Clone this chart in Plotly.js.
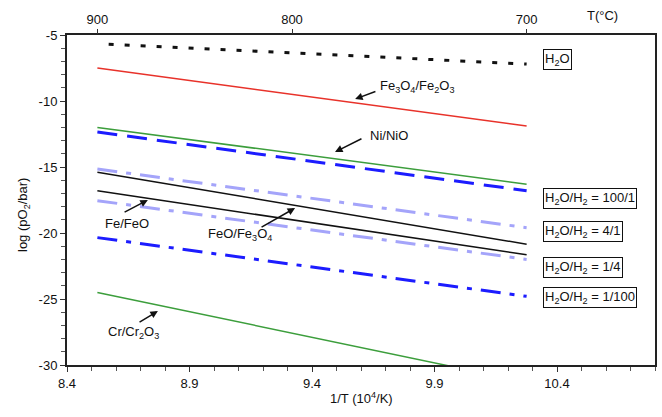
<!DOCTYPE html>
<html>
<head>
<meta charset="utf-8">
<script src="https://cdn.plot.ly/plotly-3.0.1.min.js"></script>
<style>html,body{margin:0;padding:0;background:#fff;}#chart{width:662px;height:417px;}</style>
</head>
<body>
<div id="chart"></div>
<script>
// 1/T values (10^4/K) at 900 °C and 700 °C
const invT = [8.524, 10.276];
const h2oInvT = [8.57, 10.276];
// log(pO2/bar) values at the ends of each line
const h2o = [-5.7, -7.2];
const fe3o4_fe2o3 = [-7.5, -11.9];
const ni_nio = [-12.0, -16.3];
const ratio_100_1 = [-12.35, -16.8];
const ratio_4_1 = [-15.15, -19.6];
const feo_fe3o4 = [-15.4, -20.85];
const fe_feo = [-16.8, -21.65];
const ratio_1_4 = [-17.55, -22.0];
const ratio_1_100 = [-20.35, -24.8];
const cr_cr2o3 = [-24.5, -31.3];
// tick labels
const topTicksC = [900, 800, 700];
const xTicks = [8.4, 8.9, 9.4, 9.9, 10.4];
const yTicks = [-30, -25, -20, -15, -10, -5];
const xRange = [8.4, 10.8];
const yRange = [-30, -5];

const FONT = 'Liberation Sans, Arial, sans-serif';
const FS = 13;
const BLUE = '#1c1cff';
const LBLUE = '#a4a4fa';

function tr(x, y, color, width, dash) {
  return {x: x, y: y, type: 'scatter', mode: 'lines', showlegend: false, hoverinfo: 'skip',
    line: {color: color, width: width, dash: dash || 'solid'}};
}

const data = [
  tr(h2oInvT, h2o, '#111', 3, '5px,11px'),
  tr(invT, fe3o4_fe2o3, '#e8322a', 1.5),
  tr(invT, ni_nio, '#3c9e3c', 1.5),
  tr(invT, ratio_100_1, BLUE, 3, '20px,10px'),
  tr(invT, ratio_4_1, LBLUE, 3, '20px,9px,5px,9px'),
  tr(invT, feo_fe3o4, '#111', 1.5),
  tr(invT, fe_feo, '#111', 1.5),
  tr(invT, ratio_1_4, LBLUE, 3, '20px,9px,5px,9px'),
  tr(invT, ratio_1_100, BLUE, 3, '20px,9px,5px,9px'),
  tr(invT, cr_cr2o3, '#3c9e3c', 1.5),
  {x: topTicksC.map(t => 1e4 / (t + 273.15)), y: [-5, -5, -5], xaxis: 'x2', type: 'scatter', mode: 'markers',
   marker: {opacity: 0}, showlegend: false, hoverinfo: 'skip'}
];

function arrow(x, y, ax, ay) {
  return {x: x, y: y, ax: ax, ay: ay, xref: 'x', yref: 'y', axref: 'x', ayref: 'y', text: '',
    showarrow: true, arrowhead: 2, arrowsize: 1, arrowwidth: 1.5, arrowcolor: '#111', standoff: 0};
}
function label(x, y, text) {
  return {x: x, y: y, xref: 'x', yref: 'y', text: text, showarrow: false, xanchor: 'center', yanchor: 'middle',
    font: {family: FONT, size: FS, color: '#111'}};
}
function box(y, text) {
  return {x: 10.343, y: y, xref: 'x', yref: 'y', xanchor: 'left', yanchor: 'middle', text: text, showarrow: false,
    bordercolor: '#111', borderwidth: 1, borderpad: 1, bgcolor: '#fff',
    font: {family: FONT, size: FS, color: '#111'}};
}

const annotations = [
  arrow(9.576, -9.85, 9.665, -9.24),
  label(9.83, -8.9, 'Fe<sub>3</sub>O<sub>4</sub>/Fe<sub>2</sub>O<sub>3</sub>'),
  arrow(9.494, -13.86, 9.608, -12.80),
  label(9.714, -12.6, 'Ni/NiO'),
  arrow(8.730, -17.5, 8.629, -18.48),
  label(8.645, -19.25, 'Fe/FeO'),
  arrow(9.331, -18.11, 9.188, -19.62),
  label(9.105, -20.1, 'FeO/Fe<sub>3</sub>O<sub>4</sub>'),
  arrow(8.771, -25.91, 8.690, -26.82),
  label(8.67, -27.55, 'Cr/Cr<sub>2</sub>O<sub>3</sub>'),
  box(-6.89, 'H<sub>2</sub>O'),
  box(-17.42, 'H<sub>2</sub>O/H<sub>2</sub> = 100/1'),
  box(-19.85, 'H<sub>2</sub>O/H<sub>2</sub> = 4/1'),
  box(-22.58, 'H<sub>2</sub>O/H<sub>2</sub> = 1/4'),
  box(-24.85, 'H<sub>2</sub>O/H<sub>2</sub> = 1/100'),
  {xref: 'paper', yref: 'paper', x: 0.5, y: -(398 - 365) / 330, xanchor: 'center', yanchor: 'middle',
   text: '1/T (10<sup>4</sup>/K)', showarrow: false, font: {family: FONT, size: FS, color: '#111'}},
  {xref: 'paper', yref: 'paper', x: (23 - 67) / 588, y: (365 - 215) / 330, xanchor: 'center', yanchor: 'middle',
   text: 'log (pO<sub>2</sub>/bar)', textangle: -90, showarrow: false, font: {family: FONT, size: FS, color: '#111'}},
  {xref: 'paper', yref: 'paper', x: (602 - 67) / 588, y: (365 - 16) / 330, xanchor: 'center', yanchor: 'middle',
   text: 'T(°C)', showarrow: false, font: {family: FONT, size: FS, color: '#111'}}
];

const tickFont = {family: FONT, size: FS, color: '#111'};

const layout = {
  width: 662, height: 417,
  margin: {l: 67, r: 7, t: 35, b: 52, pad: 0},
  paper_bgcolor: '#fff', plot_bgcolor: '#fff',
  font: {family: FONT, size: FS, color: '#111'},
  xaxis: {range: xRange, tickmode: 'array', tickvals: xTicks, ticktext: xTicks.map(String),
    ticks: 'outside', ticklen: 5, tickwidth: 1, tickcolor: '#333',
    minor: {dtick: 0.1, tick0: 8.4, ticks: 'outside', ticklen: 4, tickcolor: '#555'},
    showline: true, linewidth: 2, linecolor: '#222', mirror: true, showgrid: false, zeroline: false,
    tickfont: tickFont},
  xaxis2: {range: xRange, overlaying: 'x', side: 'top', anchor: 'y',
    tickmode: 'array', tickvals: topTicksC.map(t => 1e4 / (t + 273.15)), ticktext: topTicksC.map(String),
    ticks: 'outside', ticklen: 5, tickwidth: 1, tickcolor: '#333', showline: false, showgrid: false, zeroline: false,
    tickfont: tickFont},
  yaxis: {range: yRange, tickmode: 'array', tickvals: yTicks, ticktext: yTicks.map(String),
    ticks: 'outside', ticklen: 5, tickwidth: 1, tickcolor: '#333',
    minor: {dtick: 1, tick0: -30, ticks: 'outside', ticklen: 4, tickcolor: '#555'},
    showline: true, linewidth: 2, linecolor: '#222', mirror: true, showgrid: false, zeroline: false,
    tickfont: tickFont},
  annotations: annotations
};

Plotly.newPlot('chart', data, layout, {staticPlot: true, displayModeBar: false});
</script>
</body>
</html>
